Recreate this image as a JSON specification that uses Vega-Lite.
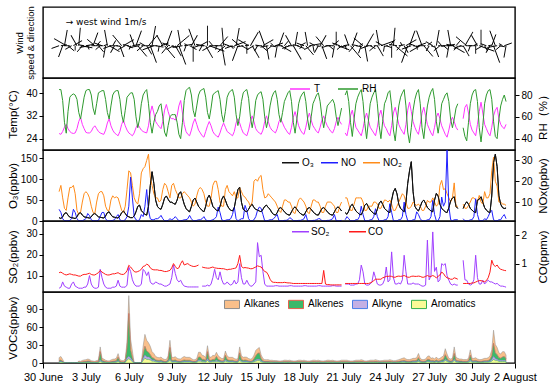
{
"$schema": "https://vega.github.io/schema/vega-lite/v6.json",
"padding": {"left": 6, "top": 5, "right": 2, "bottom": 2},
"bounds": "flush",
"config": {
  "font": "Liberation Sans",
  "view": {"stroke": "#000", "strokeWidth": 1.4},
  "axis": {"domain": false, "grid": false, "tickColor": "#000", "tickSize": 4, "labelColor": "#000", "labelFontSize": 10, "titleFontSize": 11.5, "titleFontWeight": "normal", "titleColor": "#000", "labelPadding": 2},
  "legend": {"labelFontSize": 10, "labelColor": "#000"}
},
"datasets": {"d": [
{"t":"2021-07-01T03:00","T":25.8,"RH":85,"O3":8,"NO":6.5,"NO2":15,"SO2":4,"CO":0.68,"v1":5,"v2":2,"v3":1,"v4":1,"s":2,"w":250},
{"t":"2021-07-01T06:00","T":25.5,"RH":85,"O3":6,"NO":5,"NO2":18,"SO2":4.5,"CO":0.7,"v1":6,"v2":2.5,"v3":1,"v4":1.5,"s":1.5,"w":80},
{"t":"2021-07-01T09:00","T":26.5,"RH":75,"O3":10,"NO":2,"NO2":12,"SO2":7,"CO":0.66,"v1":3.5,"v2":1,"v3":0.5,"v4":1,"s":3,"w":200},
{"t":"2021-07-01T12:00","T":28,"RH":55,"O3":18,"NO":1,"NO2":7,"SO2":5,"CO":0.62,"v1":0,"v2":0,"v3":0,"v4":0,"s":4,"w":10},
{"t":"2021-07-01T15:00","T":29,"RH":45,"O3":20,"NO":1,"NO2":6,"SO2":4.5,"CO":0.6,"v1":0,"v2":0,"v3":0,"v4":0,"s":3.5,"w":300},
{"t":"2021-07-01T18:00","T":27.5,"RH":65,"O3":14,"NO":1,"NO2":12,"SO2":4,"CO":0.62,"v1":0,"v2":0,"v3":0,"v4":0,"s":2,"w":130},
{"t":"2021-07-01T21:00","T":26.5,"RH":78,"O3":9,"NO":1.2,"NO2":17,"SO2":4,"CO":0.64,"v1":0,"v2":0,"v3":0,"v4":0,"s":1.5,"w":270},
{"t":"2021-07-02T00:00","T":26,"RH":80,"O3":8,"NO":2,"NO2":17,"SO2":6,"CO":0.62,"v1":0,"v2":0,"v3":0,"v4":0,"s":1.8,"w":240},
{"t":"2021-07-02T03:00","T":25.8,"RH":81,"O3":7,"NO":6.5,"NO2":18,"SO2":7,"CO":0.6,"v1":0,"v2":0,"v3":0,"v4":0,"s":2.5,"w":60},
{"t":"2021-07-02T06:00","T":26,"RH":80,"O3":6,"NO":5,"NO2":14,"SO2":5,"CO":0.6,"v1":0,"v2":0,"v3":0,"v4":0,"s":1.2,"w":180},
{"t":"2021-07-02T09:00","T":27.5,"RH":76,"O3":10,"NO":2,"NO2":6,"SO2":4.5,"CO":0.58,"v1":0,"v2":0,"v3":0,"v4":0,"s":3,"w":330},
{"t":"2021-07-02T12:00","T":30,"RH":64,"O3":18,"NO":1,"NO2":4,"SO2":4,"CO":0.56,"v1":2,"v2":0.6,"v3":0.3,"v4":0.5,"s":4.5,"w":5},
{"t":"2021-07-02T15:00","T":31.5,"RH":58,"O3":20,"NO":1,"NO2":5,"SO2":4,"CO":0.56,"v1":1.5,"v2":0.5,"v3":0.3,"v4":0.4,"s":3,"w":100},
{"t":"2021-07-02T18:00","T":29,"RH":68,"O3":14,"NO":1,"NO2":10,"SO2":4,"CO":0.6,"v1":2.5,"v2":0.8,"v3":0.4,"v4":0.6,"s":2,"w":220},
{"t":"2021-07-02T21:00","T":27.5,"RH":78,"O3":10,"NO":1.5,"NO2":14,"SO2":4.5,"CO":0.62,"v1":3,"v2":1,"v3":0.5,"v4":0.7,"s":1.5,"w":280},
{"t":"2021-07-03T00:00","T":26.2,"RH":84,"O3":9,"NO":2,"NO2":15,"SO2":4.5,"CO":0.62,"v1":3,"v2":1.2,"v3":0.6,"v4":0.8,"s":2,"w":80},
{"t":"2021-07-03T03:00","T":26,"RH":85,"O3":8,"NO":4.5,"NO2":14,"SO2":6,"CO":0.64,"v1":3.5,"v2":1.5,"v3":0.6,"v4":1,"s":1,"w":160},
{"t":"2021-07-03T06:00","T":26,"RH":85,"O3":7,"NO":3.5,"NO2":12,"SO2":10,"CO":0.66,"v1":3,"v2":1.5,"v3":0.5,"v4":1,"s":2.5,"w":260},
{"t":"2021-07-03T09:00","T":26.5,"RH":80,"O3":10,"NO":1.5,"NO2":8,"SO2":6,"CO":0.62,"v1":2,"v2":0.8,"v3":0.4,"v4":0.6,"s":3,"w":90},
{"t":"2021-07-03T12:00","T":27.8,"RH":68,"O3":16,"NO":1,"NO2":5,"SO2":4.5,"CO":0.6,"v1":1.8,"v2":0.6,"v3":0.3,"v4":0.5,"s":3.5,"w":20},
{"t":"2021-07-03T15:00","T":28.5,"RH":62,"O3":18,"NO":1,"NO2":4.5,"SO2":4,"CO":0.6,"v1":1.6,"v2":0.5,"v3":0.3,"v4":0.4,"s":2.5,"w":310},
{"t":"2021-07-03T18:00","T":27.5,"RH":72,"O3":14,"NO":1,"NO2":10,"SO2":4,"CO":0.64,"v1":2.2,"v2":0.8,"v3":0.4,"v4":0.6,"s":1.5,"w":40},
{"t":"2021-07-03T21:00","T":26.5,"RH":82,"O3":10,"NO":1.2,"NO2":14,"SO2":4.5,"CO":0.68,"v1":2.8,"v2":1,"v3":0.5,"v4":0.7,"s":2,"w":140},
{"t":"2021-07-04T00:00","T":26,"RH":83,"O3":9,"NO":3,"NO2":15,"SO2":13,"CO":0.76,"v1":8,"v2":14,"v3":2,"v4":3,"s":1.5,"w":230},
{"t":"2021-07-04T03:00","T":25.7,"RH":84,"O3":8,"NO":5,"NO2":15,"SO2":9,"CO":0.7,"v1":4,"v2":2,"v3":0.8,"v4":1.2,"s":2,"w":290},
{"t":"2021-07-04T06:00","T":25.5,"RH":84,"O3":7,"NO":5,"NO2":13,"SO2":6,"CO":0.66,"v1":3.5,"v2":1.5,"v3":0.6,"v4":1,"s":1,"w":70},
{"t":"2021-07-04T09:00","T":27,"RH":76,"O3":12,"NO":2,"NO2":8,"SO2":4.5,"CO":0.62,"v1":2.5,"v2":1,"v3":0.5,"v4":0.7,"s":3,"w":190},
{"t":"2021-07-04T12:00","T":29.5,"RH":64,"O3":20,"NO":1,"NO2":6,"SO2":4,"CO":0.6,"v1":2,"v2":0.7,"v3":0.4,"v4":0.5,"s":4,"w":350},
{"t":"2021-07-04T15:00","T":31,"RH":58,"O3":22,"NO":1,"NO2":6,"SO2":4,"CO":0.6,"v1":2,"v2":0.6,"v3":0.3,"v4":0.5,"s":3,"w":120},
{"t":"2021-07-04T18:00","T":28.5,"RH":70,"O3":15,"NO":1,"NO2":11,"SO2":4,"CO":0.62,"v1":2.8,"v2":1,"v3":0.5,"v4":0.7,"s":2,"w":250},
{"t":"2021-07-04T21:00","T":27,"RH":80,"O3":10,"NO":1.2,"NO2":13,"SO2":4.5,"CO":0.64,"v1":3.5,"v2":1.3,"v3":0.6,"v4":0.9,"s":1.5,"w":30},
{"t":"2021-07-05T00:00","T":26,"RH":83,"O3":9,"NO":1.5,"NO2":12,"SO2":4.5,"CO":0.64,"v1":3.5,"v2":1.5,"v3":0.6,"v4":1,"s":2,"w":210},
{"t":"2021-07-05T03:00","T":25.5,"RH":84,"O3":8,"NO":3,"NO2":12.5,"SO2":5,"CO":0.66,"v1":4,"v2":2,"v3":0.7,"v4":1.2,"s":1,"w":100},
{"t":"2021-07-05T06:00","T":25,"RH":84,"O3":7,"NO":4,"NO2":12,"SO2":7.8,"CO":0.68,"v1":6,"v2":6,"v3":1.2,"v4":2.5,"s":2,"w":270},
{"t":"2021-07-05T09:00","T":26.5,"RH":76,"O3":12,"NO":1.5,"NO2":9,"SO2":5,"CO":0.64,"v1":3,"v2":1.2,"v3":0.6,"v4":0.8,"s":3,"w":160},
{"t":"2021-07-05T12:00","T":29,"RH":62,"O3":20,"NO":1,"NO2":6,"SO2":4.5,"CO":0.62,"v1":2.5,"v2":0.8,"v3":0.4,"v4":0.6,"s":3.5,"w":320},
{"t":"2021-07-05T15:00","T":30.5,"RH":55,"O3":24,"NO":1,"NO2":5,"SO2":4.5,"CO":0.62,"v1":2.2,"v2":0.7,"v3":0.4,"v4":0.5,"s":3,"w":60},
{"t":"2021-07-05T18:00","T":28.5,"RH":66,"O3":18,"NO":1.5,"NO2":8,"SO2":4.5,"CO":0.66,"v1":4,"v2":1.5,"v3":0.6,"v4":1,"s":2,"w":240},
{"t":"2021-07-05T21:00","T":27,"RH":78,"O3":12,"NO":3,"NO2":16,"SO2":5.5,"CO":0.75,"v1":10,"v2":17,"v3":3,"v4":5,"s":1.5,"w":110},
{"t":"2021-07-06T00:00","T":26,"RH":80,"O3":10,"NO":8,"NO2":25,"SO2":14,"CO":0.94,"v1":30,"v2":72,"v3":4,"v4":7,"s":1.5,"w":280},
{"t":"2021-07-06T03:00","T":25.5,"RH":82,"O3":8,"NO":22,"NO2":24,"SO2":12,"CO":0.88,"v1":18,"v2":14,"v3":3,"v4":5,"s":1,"w":200},
{"t":"2021-07-06T06:00","T":25,"RH":82,"O3":8,"NO":12,"NO2":18,"SO2":8,"CO":0.8,"v1":11,"v2":5,"v3":2,"v4":2,"s":2,"w":80},
{"t":"2021-07-06T09:00","T":26,"RH":76,"O3":12,"NO":3,"NO2":12,"SO2":6,"CO":0.72,"v1":0,"v2":0,"v3":0,"v4":0,"s":3,"w":340},
{"t":"2021-07-06T12:00","T":27.8,"RH":60,"O3":22,"NO":1.5,"NO2":10,"SO2":5,"CO":0.7,"v1":0,"v2":0,"v3":0,"v4":0,"s":4,"w":20},
{"t":"2021-07-06T15:00","T":29,"RH":50,"O3":35,"NO":1,"NO2":9,"SO2":5,"CO":0.72,"v1":0,"v2":0,"v3":0,"v4":0,"s":3.5,"w":140},
{"t":"2021-07-06T18:00","T":28,"RH":58,"O3":38,"NO":1.5,"NO2":14,"SO2":5,"CO":0.75,"v1":0,"v2":0,"v3":0,"v4":0,"s":2.5,"w":260},
{"t":"2021-07-06T21:00","T":27,"RH":72,"O3":25,"NO":4,"NO2":24,"SO2":6,"CO":0.8,"v1":0,"v2":0,"v3":0,"v4":0,"s":2,"w":90},
{"t":"2021-07-07T00:00","T":26.5,"RH":80,"O3":20,"NO":3,"NO2":26,"SO2":13,"CO":0.9,"v1":14,"v2":7,"v3":3,"v4":4,"s":2,"w":230},
{"t":"2021-07-07T03:00","T":26.2,"RH":83,"O3":16,"NO":8,"NO2":27,"SO2":12,"CO":0.92,"v1":20,"v2":15,"v3":5,"v4":8,"s":1.5,"w":300},
{"t":"2021-07-07T06:00","T":26,"RH":85,"O3":14,"NO":16,"NO2":30,"SO2":10,"CO":0.98,"v1":18,"v2":10,"v3":4,"v4":6,"s":2.5,"w":150},
{"t":"2021-07-07T09:00","T":28.5,"RH":72,"O3":35,"NO":6,"NO2":33,"SO2":11.8,"CO":0.95,"v1":16,"v2":8,"v3":4,"v4":6,"s":3.5,"w":40},
{"t":"2021-07-07T12:00","T":33,"RH":55,"O3":85,"NO":2,"NO2":22,"SO2":7,"CO":0.85,"v1":14,"v2":6,"v3":3,"v4":5,"s":4.5,"w":160},
{"t":"2021-07-07T15:00","T":35.5,"RH":45,"O3":118,"NO":1.5,"NO2":18,"SO2":6,"CO":0.8,"v1":10,"v2":4,"v3":2,"v4":3,"s":5,"w":10},
{"t":"2021-07-07T18:00","T":33,"RH":55,"O3":90,"NO":1.5,"NO2":14,"SO2":6,"CO":0.78,"v1":8,"v2":3,"v3":2,"v4":3,"s":3,"w":250},
{"t":"2021-07-07T21:00","T":30,"RH":62,"O3":50,"NO":2,"NO2":12,"SO2":7,"CO":0.78,"v1":6,"v2":2,"v3":1,"v4":2,"s":2,"w":100},
{"t":"2021-07-08T00:00","T":29,"RH":65,"O3":35,"NO":2,"NO2":12,"SO2":6.5,"CO":0.78,"v1":5,"v2":2,"v3":1,"v4":1.5,"s":2,"w":270},
{"t":"2021-07-08T03:00","T":28.2,"RH":70,"O3":30,"NO":2.5,"NO2":10,"SO2":6,"CO":0.76,"v1":4.5,"v2":2,"v3":1,"v4":1.2,"s":1.5,"w":190},
{"t":"2021-07-08T06:00","T":27.5,"RH":72,"O3":28,"NO":3.6,"NO2":11,"SO2":6,"CO":0.76,"v1":5,"v2":2.5,"v3":1,"v4":1.5,"s":2,"w":70},
{"t":"2021-07-08T09:00","T":30,"RH":60,"O3":40,"NO":2,"NO2":16,"SO2":5.5,"CO":0.74,"v1":4,"v2":1.5,"v3":0.8,"v4":1,"s":3,"w":330},
{"t":"2021-07-08T12:00","T":34,"RH":46,"O3":55,"NO":1,"NO2":19,"SO2":5,"CO":0.72,"v1":3.5,"v2":1.2,"v3":0.6,"v4":0.8,"s":4,"w":140},
{"t":"2021-07-08T15:00","T":36,"RH":42,"O3":60,"NO":1,"NO2":18,"SO2":5,"CO":0.72,"v1":3.5,"v2":1,"v3":0.6,"v4":0.8,"s":4,"w":20},
{"t":"2021-07-08T18:00","T":33.5,"RH":52,"O3":52,"NO":1.2,"NO2":15,"SO2":5.5,"CO":0.74,"v1":6,"v2":3,"v3":1,"v4":2,"s":2.5,"w":220},
{"t":"2021-07-08T21:00","T":31.5,"RH":60,"O3":45,"NO":2,"NO2":12,"SO2":6,"CO":0.76,"v1":12,"v2":20,"v3":2,"v4":4,"s":2,"w":290},
{"t":"2021-07-09T00:00","T":31,"RH":62,"O3":45,"NO":1.5,"NO2":18,"SO2":9,"CO":0.85,"v1":5,"v2":2,"v3":1,"v4":1.5,"s":1.5,"w":110},
{"t":"2021-07-09T03:00","T":31,"RH":62,"O3":42,"NO":2,"NO2":19,"SO2":15,"CO":1,"v1":5,"v2":2,"v3":1,"v4":1.5,"s":2,"w":240},
{"t":"2021-07-09T06:00","T":30.5,"RH":62,"O3":40,"NO":3,"NO2":16,"SO2":11,"CO":0.9,"v1":5.5,"v2":2.5,"v3":1,"v4":1.5,"s":3,"w":150},
{"t":"2021-07-09T09:00","T":32,"RH":55,"O3":50,"NO":2,"NO2":14,"SO2":8,"CO":0.82,"v1":4.5,"v2":1.5,"v3":0.8,"v4":1.2,"s":4,"w":50},
{"t":"2021-07-09T12:00","T":35.5,"RH":44,"O3":65,"NO":1,"NO2":12,"SO2":7,"CO":0.85,"v1":4,"v2":1.2,"v3":0.7,"v4":1,"s":5,"w":160},
{"t":"2021-07-09T15:00","T":37.4,"RH":40,"O3":70,"NO":1,"NO2":12,"SO2":7.8,"CO":1,"v1":4,"v2":1.2,"v3":0.7,"v4":1,"s":4,"w":350},
{"t":"2021-07-09T18:00","T":33,"RH":55,"O3":55,"NO":1.2,"NO2":14,"SO2":6,"CO":1.1,"v1":5,"v2":2,"v3":1,"v4":1.3,"s":2.5,"w":260},
{"t":"2021-07-09T21:00","T":29,"RH":75,"O3":40,"NO":1.5,"NO2":15,"SO2":5,"CO":0.95,"v1":6,"v2":2.5,"v3":1,"v4":1.5,"s":2,"w":80},
{"t":"2021-07-10T00:00","T":26.5,"RH":84,"O3":30,"NO":1.5,"NO2":14,"SO2":4.8,"CO":0.98,"v1":5,"v2":2,"v3":1,"v4":1.5,"s":1.5,"w":200},
{"t":"2021-07-10T03:00","T":25.5,"RH":86,"O3":25,"NO":2,"NO2":13,"SO2":4.6,"CO":1,"v1":5,"v2":2,"v3":1,"v4":1.5,"s":1,"w":300},
{"t":"2021-07-10T06:00","T":25,"RH":87,"O3":22,"NO":3.6,"NO2":12,"SO2":4.6,"CO":0.95,"v1":5,"v2":2,"v3":1,"v4":1.5,"s":2,"w":120},
{"t":"2021-07-10T09:00","T":27,"RH":80,"O3":35,"NO":2,"NO2":10,"SO2":4.6,"CO":0.92,"v1":4,"v2":1.5,"v3":0.8,"v4":1.2,"s":3,"w":30},
{"t":"2021-07-10T12:00","T":29.5,"RH":66,"O3":50,"NO":1,"NO2":8,"SO2":4.6,"CO":0.9,"v1":3,"v2":1,"v3":0.6,"v4":0.9,"s":4,"w":180},
{"t":"2021-07-10T15:00","T":31,"RH":60,"O3":55,"NO":1,"NO2":9,"SO2":4.6,"CO":0.9,"v1":3,"v2":1,"v3":0.6,"v4":0.9,"s":4.5,"w":340},
{"t":"2021-07-10T18:00","T":29,"RH":70,"O3":45,"NO":1.2,"NO2":13,"SO2":4.6,"CO":0.92,"v1":4,"v2":1.5,"v3":0.8,"v4":1.2,"s":2,"w":90},
{"t":"2021-07-10T21:00","T":27,"RH":80,"O3":35,"NO":1.5,"NO2":16,"SO2":4.6,"CO":0.95,"v1":8,"v2":5,"v3":2,"v4":3,"s":1.5,"w":250},
{"t":"2021-07-11T00:00","T":26,"RH":84,"O3":30,"NO":1.5,"NO2":17,"SO2":null,"CO":null,"v1":8,"v2":5,"v3":2,"v4":3,"s":2,"w":60},
{"t":"2021-07-11T03:00","T":25,"RH":85,"O3":25,"NO":2,"NO2":16,"SO2":5,"CO":0.88,"v1":7,"v2":3,"v3":1,"v4":2,"s":1.5,"w":210},
{"t":"2021-07-11T06:00","T":24.5,"RH":86,"O3":22,"NO":3,"NO2":14,"SO2":5,"CO":0.86,"v1":6,"v2":3,"v3":1,"v4":2,"s":2,"w":280},
{"t":"2021-07-11T09:00","T":26.5,"RH":78,"O3":35,"NO":1.5,"NO2":10,"SO2":5,"CO":0.85,"v1":5,"v2":2,"v3":0.8,"v4":1.5,"s":3.5,"w":150},
{"t":"2021-07-11T12:00","T":28.5,"RH":64,"O3":55,"NO":1,"NO2":8,"SO2":5.5,"CO":0.84,"v1":10,"v2":12,"v3":3,"v4":4,"s":5,"w":0},
{"t":"2021-07-11T15:00","T":30,"RH":58,"O3":62,"NO":1,"NO2":8,"SO2":5,"CO":0.84,"v1":6,"v2":2,"v3":1,"v4":1.5,"s":4,"w":110},
{"t":"2021-07-11T18:00","T":28.5,"RH":68,"O3":50,"NO":1.2,"NO2":12,"SO2":6,"CO":0.86,"v1":5,"v2":2,"v3":1,"v4":1.5,"s":2.5,"w":240},
{"t":"2021-07-11T21:00","T":26.5,"RH":80,"O3":35,"NO":1.5,"NO2":18,"SO2":9,"CO":0.88,"v1":7,"v2":3,"v3":1,"v4":2,"s":1.5,"w":320},
{"t":"2021-07-12T00:00","T":25.5,"RH":82,"O3":30,"NO":2,"NO2":20,"SO2":13,"CO":0.85,"v1":6,"v2":3,"v3":1,"v4":2,"s":2,"w":90},
{"t":"2021-07-12T03:00","T":25,"RH":83,"O3":26,"NO":3,"NO2":20,"SO2":9,"CO":0.84,"v1":7,"v2":7,"v3":2,"v4":2,"s":1,"w":190},
{"t":"2021-07-12T06:00","T":24.5,"RH":84,"O3":24,"NO":7.6,"NO2":16,"SO2":8,"CO":0.83,"v1":6,"v2":3,"v3":1,"v4":2,"s":2,"w":270},
{"t":"2021-07-12T09:00","T":26,"RH":76,"O3":35,"NO":5,"NO2":10,"SO2":11.8,"CO":0.83,"v1":5,"v2":2,"v3":1,"v4":1.5,"s":3,"w":40},
{"t":"2021-07-12T12:00","T":28,"RH":62,"O3":52,"NO":1.5,"NO2":8,"SO2":8,"CO":0.82,"v1":4,"v2":1.5,"v3":0.8,"v4":1.2,"s":5,"w":170},
{"t":"2021-07-12T15:00","T":29.5,"RH":55,"O3":60,"NO":1,"NO2":8,"SO2":6,"CO":0.82,"v1":4,"v2":1.5,"v3":0.8,"v4":1.2,"s":4.5,"w":355},
{"t":"2021-07-12T18:00","T":28,"RH":65,"O3":50,"NO":1.2,"NO2":16,"SO2":6,"CO":0.8,"v1":7,"v2":8,"v3":2,"v4":3,"s":2.5,"w":230},
{"t":"2021-07-12T21:00","T":26.5,"RH":78,"O3":38,"NO":1.5,"NO2":18,"SO2":7,"CO":0.78,"v1":6,"v2":3,"v3":1,"v4":2,"s":2,"w":100},
{"t":"2021-07-13T00:00","T":26,"RH":82,"O3":30,"NO":1.5,"NO2":15,"SO2":6,"CO":0.8,"v1":5,"v2":2,"v3":1,"v4":1.5,"s":1.5,"w":290},
{"t":"2021-07-13T03:00","T":25.5,"RH":84,"O3":26,"NO":2,"NO2":14,"SO2":5.5,"CO":0.8,"v1":5,"v2":2,"v3":1,"v4":1.5,"s":1,"w":140},
{"t":"2021-07-13T06:00","T":25,"RH":85,"O3":24,"NO":4,"NO2":13,"SO2":6,"CO":0.82,"v1":5,"v2":2,"v3":1,"v4":1.5,"s":2,"w":250},
{"t":"2021-07-13T09:00","T":26.5,"RH":78,"O3":32,"NO":7.6,"NO2":15,"SO2":7.8,"CO":0.83,"v1":4,"v2":1.5,"v3":0.8,"v4":1.2,"s":3,"w":70},
{"t":"2021-07-13T12:00","T":29.5,"RH":62,"O3":55,"NO":2,"NO2":12,"SO2":6,"CO":0.85,"v1":3.5,"v2":1.2,"v3":0.7,"v4":1,"s":4.5,"w":10},
{"t":"2021-07-13T15:00","T":31,"RH":52,"O3":75,"NO":1,"NO2":12,"SO2":7,"CO":1,"v1":4,"v2":1.5,"v3":0.8,"v4":1.2,"s":4,"w":200},
{"t":"2021-07-13T18:00","T":29.5,"RH":60,"O3":81,"NO":1.5,"NO2":17,"SO2":15.7,"CO":1.29,"v1":10,"v2":11,"v3":2,"v4":4,"s":2.5,"w":310},
{"t":"2021-07-13T21:00","T":27.5,"RH":74,"O3":45,"NO":2,"NO2":15,"SO2":9,"CO":0.9,"v1":6,"v2":3,"v3":1,"v4":2,"s":2,"w":120},
{"t":"2021-07-14T00:00","T":26,"RH":82,"O3":28,"NO":2,"NO2":13,"SO2":6,"CO":0.85,"v1":5,"v2":2,"v3":1,"v4":1.5,"s":1.5,"w":260},
{"t":"2021-07-14T03:00","T":25.5,"RH":84,"O3":24,"NO":8.4,"NO2":12.4,"SO2":6,"CO":0.86,"v1":5,"v2":2.5,"v3":1,"v4":1.5,"s":1,"w":80},
{"t":"2021-07-14T06:00","T":25,"RH":85,"O3":22,"NO":6,"NO2":11,"SO2":7.8,"CO":0.85,"v1":5,"v2":2,"v3":1,"v4":1.5,"s":2,"w":180},
{"t":"2021-07-14T09:00","T":27,"RH":77,"O3":28,"NO":2,"NO2":10,"SO2":6,"CO":0.84,"v1":4,"v2":1.5,"v3":0.8,"v4":1.2,"s":3,"w":300},
{"t":"2021-07-14T12:00","T":30,"RH":60,"O3":36,"NO":1,"NO2":8,"SO2":5,"CO":0.82,"v1":3.5,"v2":1.2,"v3":0.7,"v4":1,"s":4,"w":30},
{"t":"2021-07-14T15:00","T":32,"RH":50,"O3":40,"NO":1,"NO2":10,"SO2":5,"CO":0.82,"v1":4,"v2":1.5,"v3":0.8,"v4":1.2,"s":3.5,"w":150},
{"t":"2021-07-14T18:00","T":30,"RH":60,"O3":32,"NO":1.5,"NO2":20,"SO2":6,"CO":0.85,"v1":6,"v2":4,"v3":1,"v4":2,"s":2,"w":240},
{"t":"2021-07-14T21:00","T":27.5,"RH":75,"O3":28,"NO":3,"NO2":21,"SO2":7,"CO":0.88,"v1":9,"v2":7,"v3":2,"v4":3,"s":1.5,"w":90},
{"t":"2021-07-15T00:00","T":26.5,"RH":80,"O3":26,"NO":6,"NO2":20,"SO2":25.7,"CO":0.92,"v1":8,"v2":10,"v3":2,"v4":4,"s":1.5,"w":210},
{"t":"2021-07-15T03:00","T":26,"RH":82,"O3":24,"NO":7.6,"NO2":22,"SO2":19,"CO":0.9,"v1":9,"v2":11,"v3":2,"v4":4,"s":1,"w":280},
{"t":"2021-07-15T06:00","T":25.5,"RH":83,"O3":22,"NO":7,"NO2":22.8,"SO2":19.7,"CO":0.88,"v1":6,"v2":4,"v3":1.5,"v4":2,"s":2,"w":130},
{"t":"2021-07-15T09:00","T":27,"RH":76,"O3":28,"NO":4,"NO2":16,"SO2":12,"CO":0.8,"v1":4,"v2":1.5,"v3":0.8,"v4":1.2,"s":3,"w":60},
{"t":"2021-07-15T12:00","T":30,"RH":60,"O3":35,"NO":1,"NO2":12,"SO2":6,"CO":0.72,"v1":3,"v2":1,"v3":0.6,"v4":0.9,"s":4,"w":340},
{"t":"2021-07-15T15:00","T":32,"RH":50,"O3":38,"NO":1,"NO2":12.4,"SO2":5,"CO":0.7,"v1":3,"v2":1,"v3":0.6,"v4":0.9,"s":3.5,"w":170},
{"t":"2021-07-15T18:00","T":30,"RH":58,"O3":32,"NO":1.2,"NO2":14,"SO2":5,"CO":0.6,"v1":3,"v2":1,"v3":0.6,"v4":0.9,"s":2,"w":260},
{"t":"2021-07-15T21:00","T":28,"RH":70,"O3":28,"NO":1.5,"NO2":13,"SO2":5,"CO":0.45,"v1":2.5,"v2":0.8,"v3":0.5,"v4":0.7,"s":1.5,"w":100},
{"t":"2021-07-16T00:00","T":27,"RH":78,"O3":20,"NO":1.5,"NO2":12,"SO2":5,"CO":0.36,"v1":2.5,"v2":1,"v3":0.5,"v4":0.7,"s":1.5,"w":230},
{"t":"2021-07-16T03:00","T":26.5,"RH":82,"O3":16,"NO":2,"NO2":11,"SO2":5,"CO":0.34,"v1":2.2,"v2":0.9,"v3":0.5,"v4":0.6,"s":1,"w":310},
{"t":"2021-07-16T06:00","T":26,"RH":84,"O3":14,"NO":3,"NO2":10,"SO2":5.2,"CO":0.34,"v1":2.2,"v2":0.9,"v3":0.5,"v4":0.6,"s":2,"w":70},
{"t":"2021-07-16T09:00","T":27.5,"RH":76,"O3":20,"NO":4,"NO2":8,"SO2":5.2,"CO":0.33,"v1":2,"v2":0.8,"v3":0.5,"v4":0.6,"s":3,"w":190},
{"t":"2021-07-16T12:00","T":30,"RH":62,"O3":30,"NO":1,"NO2":6,"SO2":5,"CO":0.33,"v1":1.8,"v2":0.7,"v3":0.4,"v4":0.5,"s":3.5,"w":20},
{"t":"2021-07-16T15:00","T":31,"RH":55,"O3":32,"NO":1,"NO2":5,"SO2":5,"CO":0.33,"v1":1.8,"v2":0.7,"v3":0.4,"v4":0.5,"s":3,"w":120},
{"t":"2021-07-16T18:00","T":29.5,"RH":64,"O3":28,"NO":1,"NO2":8,"SO2":5,"CO":0.33,"v1":2,"v2":0.8,"v3":0.5,"v4":0.6,"s":2,"w":270},
{"t":"2021-07-16T21:00","T":28,"RH":74,"O3":22,"NO":1.2,"NO2":11,"SO2":5,"CO":0.34,"v1":2.5,"v2":1,"v3":0.5,"v4":0.7,"s":1.5,"w":40},
{"t":"2021-07-17T00:00","T":27,"RH":78,"O3":18,"NO":1.2,"NO2":11,"SO2":5,"CO":0.33,"v1":2.5,"v2":1,"v3":0.5,"v4":0.7,"s":1,"w":200},
{"t":"2021-07-17T03:00","T":26,"RH":82,"O3":15,"NO":1.5,"NO2":10,"SO2":5,"CO":0.32,"v1":2.2,"v2":0.9,"v3":0.5,"v4":0.6,"s":1.5,"w":90},
{"t":"2021-07-17T06:00","T":25.5,"RH":84,"O3":14,"NO":2.5,"NO2":10,"SO2":5.2,"CO":0.32,"v1":2.5,"v2":1,"v3":0.5,"v4":0.7,"s":2,"w":250},
{"t":"2021-07-17T09:00","T":28,"RH":74,"O3":22,"NO":2,"NO2":8,"SO2":5.2,"CO":0.31,"v1":2,"v2":0.8,"v3":0.5,"v4":0.6,"s":3,"w":330},
{"t":"2021-07-17T12:00","T":31.5,"RH":55,"O3":30,"NO":1,"NO2":5,"SO2":5,"CO":0.3,"v1":1.8,"v2":0.7,"v3":0.4,"v4":0.5,"s":4,"w":150},
{"t":"2021-07-17T15:00","T":33.5,"RH":45,"O3":34,"NO":1,"NO2":4.5,"SO2":5,"CO":0.3,"v1":1.8,"v2":0.7,"v3":0.4,"v4":0.5,"s":3.5,"w":10},
{"t":"2021-07-17T18:00","T":31,"RH":58,"O3":28,"NO":1,"NO2":8,"SO2":5,"CO":0.3,"v1":2,"v2":0.8,"v3":0.5,"v4":0.6,"s":2,"w":110},
{"t":"2021-07-17T21:00","T":28.5,"RH":72,"O3":22,"NO":1.2,"NO2":11,"SO2":5,"CO":0.3,"v1":2.5,"v2":1,"v3":0.5,"v4":0.7,"s":1.5,"w":280},
{"t":"2021-07-18T00:00","T":27,"RH":78,"O3":18,"NO":1.2,"NO2":12,"SO2":5,"CO":0.3,"v1":2.5,"v2":1,"v3":0.5,"v4":0.7,"s":1.5,"w":60},
{"t":"2021-07-18T03:00","T":26,"RH":81,"O3":15,"NO":1.5,"NO2":11,"SO2":5,"CO":0.3,"v1":2.2,"v2":0.9,"v3":0.5,"v4":0.6,"s":1,"w":220},
{"t":"2021-07-18T06:00","T":25.5,"RH":83,"O3":14,"NO":2,"NO2":10,"SO2":5.2,"CO":0.3,"v1":2.5,"v2":1,"v3":0.5,"v4":0.7,"s":2,"w":290},
{"t":"2021-07-18T09:00","T":28,"RH":74,"O3":22,"NO":4,"NO2":8,"SO2":5.2,"CO":0.3,"v1":2,"v2":0.8,"v3":0.5,"v4":0.6,"s":3,"w":140},
{"t":"2021-07-18T12:00","T":31,"RH":58,"O3":30,"NO":1,"NO2":5,"SO2":5,"CO":0.3,"v1":1.8,"v2":0.7,"v3":0.4,"v4":0.5,"s":3.5,"w":350},
{"t":"2021-07-18T15:00","T":33,"RH":48,"O3":32,"NO":1,"NO2":4.5,"SO2":5,"CO":0.3,"v1":1.8,"v2":0.7,"v3":0.4,"v4":0.5,"s":3,"w":80},
{"t":"2021-07-18T18:00","T":30.5,"RH":60,"O3":28,"NO":1,"NO2":8,"SO2":5,"CO":0.3,"v1":2,"v2":0.8,"v3":0.5,"v4":0.6,"s":2,"w":240},
{"t":"2021-07-18T21:00","T":28.5,"RH":72,"O3":22,"NO":1.2,"NO2":11,"SO2":5,"CO":0.3,"v1":2.5,"v2":1,"v3":0.5,"v4":0.7,"s":1.5,"w":170},
{"t":"2021-07-19T00:00","T":27.5,"RH":76,"O3":18,"NO":1.2,"NO2":11,"SO2":5,"CO":0.3,"v1":2.5,"v2":1,"v3":0.5,"v4":0.7,"s":1.5,"w":300},
{"t":"2021-07-19T03:00","T":26.5,"RH":80,"O3":15,"NO":1.5,"NO2":10,"SO2":5,"CO":0.3,"v1":2.2,"v2":0.9,"v3":0.5,"v4":0.6,"s":1,"w":100},
{"t":"2021-07-19T06:00","T":26,"RH":82,"O3":14,"NO":2,"NO2":10,"SO2":5.2,"CO":0.3,"v1":2.5,"v2":1,"v3":0.5,"v4":0.7,"s":2,"w":210},
{"t":"2021-07-19T09:00","T":28,"RH":74,"O3":22,"NO":2,"NO2":8,"SO2":5.2,"CO":0.3,"v1":2,"v2":0.8,"v3":0.5,"v4":0.6,"s":3,"w":30},
{"t":"2021-07-19T12:00","T":30.5,"RH":60,"O3":30,"NO":1,"NO2":5,"SO2":5,"CO":0.3,"v1":1.8,"v2":0.7,"v3":0.4,"v4":0.5,"s":3.5,"w":160},
{"t":"2021-07-19T15:00","T":32,"RH":50,"O3":32,"NO":1,"NO2":5,"SO2":5,"CO":0.76,"v1":1.8,"v2":0.7,"v3":0.4,"v4":0.5,"s":3,"w":320},
{"t":"2021-07-19T18:00","T":30,"RH":60,"O3":28,"NO":1,"NO2":8,"SO2":5,"CO":0.28,"v1":2,"v2":0.8,"v3":0.5,"v4":0.6,"s":2,"w":90},
{"t":"2021-07-19T21:00","T":28.5,"RH":70,"O3":22,"NO":1.2,"NO2":10,"SO2":5,"CO":0.26,"v1":2.5,"v2":1,"v3":0.5,"v4":0.7,"s":1.5,"w":250},
{"t":"2021-07-20T00:00","T":27.5,"RH":72,"O3":18,"NO":1.2,"NO2":10,"SO2":5,"CO":0.26,"v1":2.5,"v2":1,"v3":0.5,"v4":0.7,"s":1.5,"w":130},
{"t":"2021-07-20T03:00","T":26.5,"RH":74,"O3":15,"NO":1.5,"NO2":10,"SO2":5,"CO":0.25,"v1":2.2,"v2":0.9,"v3":0.5,"v4":0.6,"s":1,"w":270},
{"t":"2021-07-20T06:00","T":26,"RH":76,"O3":14,"NO":2,"NO2":9,"SO2":5.2,"CO":0.25,"v1":2.5,"v2":1,"v3":0.5,"v4":0.7,"s":2,"w":50},
{"t":"2021-07-20T09:00","T":27.5,"RH":72,"O3":22,"NO":4,"NO2":8,"SO2":5.2,"CO":0.25,"v1":2,"v2":0.8,"v3":0.5,"v4":0.6,"s":3,"w":190},
{"t":"2021-07-20T12:00","T":30,"RH":60,"O3":30,"NO":1,"NO2":5,"SO2":5,"CO":0.25,"v1":1.8,"v2":0.7,"v3":0.4,"v4":0.5,"s":3.5,"w":0},
{"t":"2021-07-20T15:00","T":31.5,"RH":52,"O3":34,"NO":1,"NO2":5,"SO2":5,"CO":0.25,"v1":1.8,"v2":0.7,"v3":0.4,"v4":0.5,"s":3,"w":110},
{"t":"2021-07-20T18:00","T":30,"RH":60,"O3":30,"NO":1,"NO2":8,"SO2":5,"CO":0.25,"v1":2,"v2":0.8,"v3":0.5,"v4":0.6,"s":2,"w":290},
{"t":"2021-07-20T21:00","T":29,"RH":68,"O3":24,"NO":1.2,"NO2":10,"SO2":5,"CO":0.25,"v1":2.5,"v2":1,"v3":0.5,"v4":0.7,"s":1.5,"w":230},
{"t":"2021-07-21T00:00","T":null,"RH":null,"O3":null,"NO":null,"NO2":null,"SO2":null,"CO":null,"v1":2.5,"v2":1,"v3":0.5,"v4":0.7,"s":1.5,"w":80},
{"t":"2021-07-21T03:00","T":26,"RH":80,"O3":20,"NO":1.5,"NO2":12,"SO2":6,"CO":0.3,"v1":2.5,"v2":1,"v3":0.5,"v4":0.7,"s":1,"w":160},
{"t":"2021-07-21T06:00","T":25,"RH":84,"O3":16,"NO":3,"NO2":12,"SO2":6,"CO":0.3,"v1":2.5,"v2":1,"v3":0.5,"v4":0.7,"s":2,"w":260},
{"t":"2021-07-21T09:00","T":28,"RH":74,"O3":24,"NO":2,"NO2":9,"SO2":6,"CO":0.3,"v1":2,"v2":0.8,"v3":0.5,"v4":0.6,"s":3,"w":340},
{"t":"2021-07-21T12:00","T":32,"RH":55,"O3":36,"NO":1,"NO2":6,"SO2":5.5,"CO":0.3,"v1":1.8,"v2":0.7,"v3":0.4,"v4":0.5,"s":4,"w":140},
{"t":"2021-07-21T15:00","T":34,"RH":42,"O3":40,"NO":1,"NO2":6,"SO2":5.5,"CO":0.3,"v1":1.8,"v2":0.7,"v3":0.4,"v4":0.5,"s":3.5,"w":20},
{"t":"2021-07-21T18:00","T":31,"RH":58,"O3":32,"NO":1,"NO2":9,"SO2":5.5,"CO":0.3,"v1":2,"v2":0.8,"v3":0.5,"v4":0.6,"s":2,"w":220},
{"t":"2021-07-21T21:00","T":28,"RH":72,"O3":24,"NO":1.5,"NO2":12,"SO2":6,"CO":0.3,"v1":2.5,"v2":1,"v3":0.5,"v4":0.7,"s":1.5,"w":100},
{"t":"2021-07-22T00:00","T":27,"RH":78,"O3":20,"NO":1.5,"NO2":12,"SO2":6,"CO":0.3,"v1":2.5,"v2":1,"v3":0.5,"v4":0.7,"s":1.5,"w":280},
{"t":"2021-07-22T03:00","T":26,"RH":82,"O3":16,"NO":3,"NO2":12,"SO2":8,"CO":0.3,"v1":2.5,"v2":1,"v3":0.5,"v4":0.7,"s":1,"w":60},
{"t":"2021-07-22T06:00","T":25,"RH":85,"O3":15,"NO":8,"NO2":12,"SO2":15,"CO":0.3,"v1":3,"v2":1.2,"v3":0.6,"v4":0.8,"s":2,"w":200},
{"t":"2021-07-22T09:00","T":27.5,"RH":74,"O3":24,"NO":4,"NO2":10,"SO2":11.8,"CO":0.3,"v1":2.5,"v2":1,"v3":0.5,"v4":0.7,"s":3,"w":310},
{"t":"2021-07-22T12:00","T":31,"RH":54,"O3":38,"NO":1,"NO2":6,"SO2":6,"CO":0.3,"v1":1.8,"v2":0.7,"v3":0.4,"v4":0.5,"s":4,"w":170},
{"t":"2021-07-22T15:00","T":33,"RH":40,"O3":42,"NO":1,"NO2":6,"SO2":5.5,"CO":0.3,"v1":1.8,"v2":0.7,"v3":0.4,"v4":0.5,"s":3.5,"w":30},
{"t":"2021-07-22T18:00","T":30.5,"RH":56,"O3":34,"NO":1,"NO2":8,"SO2":5.5,"CO":0.3,"v1":2,"v2":0.8,"v3":0.5,"v4":0.6,"s":2,"w":250},
{"t":"2021-07-22T21:00","T":28,"RH":72,"O3":26,"NO":1.5,"NO2":8,"SO2":6,"CO":0.32,"v1":2.5,"v2":1,"v3":0.5,"v4":0.7,"s":1.5,"w":120},
{"t":"2021-07-23T00:00","T":27,"RH":78,"O3":22,"NO":1.5,"NO2":8,"SO2":7,"CO":0.35,"v1":2.5,"v2":1,"v3":0.5,"v4":0.7,"s":1.5,"w":270},
{"t":"2021-07-23T03:00","T":26,"RH":82,"O3":18,"NO":3,"NO2":10,"SO2":11.8,"CO":0.4,"v1":2.5,"v2":1,"v3":0.5,"v4":0.7,"s":1,"w":90},
{"t":"2021-07-23T06:00","T":25,"RH":85,"O3":16,"NO":6.8,"NO2":10,"SO2":9,"CO":0.45,"v1":3,"v2":1.2,"v3":0.6,"v4":0.8,"s":2,"w":230},
{"t":"2021-07-23T09:00","T":28,"RH":72,"O3":28,"NO":3,"NO2":9,"SO2":6,"CO":0.45,"v1":2.5,"v2":1,"v3":0.5,"v4":0.7,"s":3,"w":150},
{"t":"2021-07-23T12:00","T":32,"RH":52,"O3":42,"NO":1,"NO2":7,"SO2":5.5,"CO":0.45,"v1":2,"v2":0.8,"v3":0.5,"v4":0.6,"s":4,"w":350},
{"t":"2021-07-23T15:00","T":34,"RH":40,"O3":48,"NO":1,"NO2":7,"SO2":5.5,"CO":0.45,"v1":2,"v2":0.8,"v3":0.5,"v4":0.6,"s":3.5,"w":70},
{"t":"2021-07-23T18:00","T":31,"RH":56,"O3":40,"NO":1,"NO2":9,"SO2":6,"CO":0.5,"v1":2.2,"v2":0.9,"v3":0.5,"v4":0.6,"s":2,"w":300},
{"t":"2021-07-23T21:00","T":28.5,"RH":72,"O3":30,"NO":1.5,"NO2":11,"SO2":8,"CO":0.52,"v1":2.5,"v2":1,"v3":0.5,"v4":0.7,"s":1.5,"w":190},
{"t":"2021-07-24T00:00","T":27.5,"RH":76,"O3":26,"NO":1.5,"NO2":10.8,"SO2":14.1,"CO":0.55,"v1":2.5,"v2":1,"v3":0.5,"v4":0.7,"s":1.5,"w":110},
{"t":"2021-07-24T03:00","T":26,"RH":82,"O3":22,"NO":3,"NO2":10,"SO2":7,"CO":0.55,"v1":2.5,"v2":1,"v3":0.5,"v4":0.7,"s":1,"w":260},
{"t":"2021-07-24T06:00","T":25,"RH":84,"O3":20,"NO":9.2,"NO2":11,"SO2":8,"CO":0.56,"v1":3,"v2":1.2,"v3":0.6,"v4":0.8,"s":2,"w":40},
{"t":"2021-07-24T09:00","T":28.5,"RH":70,"O3":50,"NO":5,"NO2":9,"SO2":21.3,"CO":0.55,"v1":2.5,"v2":1,"v3":0.5,"v4":0.7,"s":3,"w":180},
{"t":"2021-07-24T12:00","T":33,"RH":48,"O3":70,"NO":1,"NO2":6,"SO2":9,"CO":0.52,"v1":2,"v2":0.8,"v3":0.5,"v4":0.6,"s":4.5,"w":5},
{"t":"2021-07-24T15:00","T":35,"RH":38,"O3":78,"NO":1,"NO2":6,"SO2":6,"CO":0.52,"v1":2,"v2":0.8,"v3":0.5,"v4":0.6,"s":4,"w":130},
{"t":"2021-07-24T18:00","T":32,"RH":54,"O3":65,"NO":1,"NO2":8,"SO2":6,"CO":0.55,"v1":2.5,"v2":1,"v3":0.5,"v4":0.7,"s":2,"w":280},
{"t":"2021-07-24T21:00","T":29,"RH":70,"O3":40,"NO":1.5,"NO2":10,"SO2":6.5,"CO":0.56,"v1":3,"v2":1.2,"v3":0.6,"v4":0.8,"s":1.5,"w":80},
{"t":"2021-07-25T00:00","T":27.5,"RH":78,"O3":30,"NO":1.5,"NO2":12,"SO2":6,"CO":0.55,"v1":3.5,"v2":1.5,"v3":0.7,"v4":1,"s":1.5,"w":220},
{"t":"2021-07-25T03:00","T":26.5,"RH":82,"O3":26,"NO":3,"NO2":14,"SO2":8,"CO":0.56,"v1":4,"v2":1.8,"v3":0.8,"v4":1.2,"s":1,"w":330},
{"t":"2021-07-25T06:00","T":25.5,"RH":85,"O3":22,"NO":10,"NO2":13,"SO2":19.7,"CO":0.58,"v1":4.5,"v2":2,"v3":0.9,"v4":1.4,"s":2,"w":150},
{"t":"2021-07-25T09:00","T":29,"RH":70,"O3":45,"NO":4,"NO2":10,"SO2":11.8,"CO":0.55,"v1":3.5,"v2":1.5,"v3":0.7,"v4":1,"s":3,"w":60},
{"t":"2021-07-25T12:00","T":34,"RH":46,"O3":90,"NO":1,"NO2":7,"SO2":6,"CO":0.52,"v1":3,"v2":1.2,"v3":0.6,"v4":0.9,"s":4.5,"w":200},
{"t":"2021-07-25T15:00","T":36.8,"RH":36,"O3":120,"NO":1,"NO2":7,"SO2":6,"CO":0.52,"v1":3,"v2":1.2,"v3":0.6,"v4":0.9,"s":4,"w":20},
{"t":"2021-07-25T18:00","T":33.5,"RH":50,"O3":142,"NO":1,"NO2":8,"SO2":6,"CO":0.55,"v1":3.5,"v2":1.5,"v3":0.7,"v4":1,"s":2.5,"w":250},
{"t":"2021-07-25T21:00","T":30,"RH":66,"O3":70,"NO":1.5,"NO2":10,"SO2":6.5,"CO":0.56,"v1":4,"v2":1.8,"v3":0.8,"v4":1.2,"s":1.5,"w":100},
{"t":"2021-07-26T00:00","T":28,"RH":76,"O3":35,"NO":1.5,"NO2":9,"SO2":6,"CO":0.55,"v1":4,"v2":1.8,"v3":0.8,"v4":1.2,"s":1.5,"w":290},
{"t":"2021-07-26T03:00","T":26.5,"RH":82,"O3":28,"NO":5.3,"NO2":8.4,"SO2":6,"CO":0.55,"v1":4.5,"v2":2,"v3":0.9,"v4":1.4,"s":1,"w":170},
{"t":"2021-07-26T06:00","T":25.5,"RH":85,"O3":24,"NO":4,"NO2":9,"SO2":6,"CO":0.56,"v1":7,"v2":5,"v3":1.5,"v4":2.5,"s":2,"w":70},
{"t":"2021-07-26T09:00","T":29,"RH":72,"O3":34,"NO":2,"NO2":8,"SO2":5.5,"CO":0.55,"v1":4,"v2":1.8,"v3":0.8,"v4":1.2,"s":3,"w":240},
{"t":"2021-07-26T12:00","T":33,"RH":50,"O3":46,"NO":1,"NO2":6,"SO2":5,"CO":0.52,"v1":3,"v2":1.2,"v3":0.6,"v4":0.9,"s":4,"w":340},
{"t":"2021-07-26T15:00","T":35,"RH":40,"O3":50,"NO":1,"NO2":6,"SO2":5,"CO":0.52,"v1":3,"v2":1.2,"v3":0.6,"v4":0.9,"s":3.5,"w":140},
{"t":"2021-07-26T18:00","T":32,"RH":56,"O3":42,"NO":1,"NO2":8,"SO2":5.5,"CO":0.55,"v1":3.5,"v2":1.5,"v3":0.7,"v4":1,"s":2,"w":270},
{"t":"2021-07-26T21:00","T":29,"RH":70,"O3":32,"NO":1.5,"NO2":10.8,"SO2":26.9,"CO":0.58,"v1":5,"v2":3,"v3":1,"v4":2,"s":1.5,"w":50},
{"t":"2021-07-27T00:00","T":27.5,"RH":78,"O3":28,"NO":1.5,"NO2":10,"SO2":8,"CO":0.55,"v1":6,"v2":3,"v3":1.2,"v4":1.8,"s":1.5,"w":210},
{"t":"2021-07-27T03:00","T":26,"RH":83,"O3":24,"NO":3,"NO2":10,"SO2":10,"CO":0.55,"v1":4,"v2":1.8,"v3":0.8,"v4":1.2,"s":1,"w":110},
{"t":"2021-07-27T06:00","T":25,"RH":86,"O3":22,"NO":10.8,"NO2":12,"SO2":30.8,"CO":0.58,"v1":4.5,"v2":2,"v3":0.9,"v4":1.4,"s":2,"w":300},
{"t":"2021-07-27T09:00","T":28,"RH":76,"O3":50,"NO":4,"NO2":10,"SO2":12,"CO":0.55,"v1":3.5,"v2":1.5,"v3":0.7,"v4":1,"s":3,"w":160},
{"t":"2021-07-27T12:00","T":31.5,"RH":56,"O3":66,"NO":1,"NO2":8,"SO2":14,"CO":0.5,"v1":5,"v2":2.5,"v3":1,"v4":1.5,"s":4,"w":10},
{"t":"2021-07-27T15:00","T":33,"RH":45,"O3":60,"NO":1,"NO2":9,"SO2":7,"CO":0.55,"v1":3.5,"v2":1.5,"v3":0.7,"v4":1,"s":3.5,"w":90},
{"t":"2021-07-27T18:00","T":31,"RH":56,"O3":40,"NO":3,"NO2":18,"SO2":8,"CO":0.6,"v1":4,"v2":1.8,"v3":0.8,"v4":1.2,"s":2,"w":230},
{"t":"2021-07-27T21:00","T":28.5,"RH":72,"O3":30,"NO":12.4,"NO2":20.4,"SO2":15.7,"CO":0.7,"v1":5,"v2":2.5,"v3":1,"v4":1.5,"s":1.5,"w":320},
{"t":"2021-07-28T00:00","T":27,"RH":76,"O3":26,"NO":8,"NO2":16,"SO2":15,"CO":0.65,"v1":6,"v2":3,"v3":1.2,"v4":1.8,"s":1.5,"w":130},
{"t":"2021-07-28T03:00","T":25.5,"RH":80,"O3":22,"NO":10,"NO2":16.4,"SO2":15.7,"CO":0.55,"v1":10,"v2":8,"v3":2,"v4":4,"s":1,"w":260},
{"t":"2021-07-28T06:00","T":24.5,"RH":82,"O3":20,"NO":34.9,"NO2":14,"SO2":10,"CO":0.5,"v1":7,"v2":4,"v3":1.5,"v4":2.5,"s":2,"w":80},
{"t":"2021-07-28T09:00","T":27,"RH":74,"O3":32,"NO":8,"NO2":12,"SO2":7.8,"CO":0.48,"v1":4,"v2":1.8,"v3":0.8,"v4":1.2,"s":3,"w":190},
{"t":"2021-07-28T12:00","T":30,"RH":58,"O3":48,"NO":1.5,"NO2":10,"SO2":6,"CO":0.45,"v1":3.5,"v2":1.5,"v3":0.7,"v4":1,"s":4,"w":350},
{"t":"2021-07-28T15:00","T":31.5,"RH":50,"O3":55,"NO":1,"NO2":12,"SO2":5.5,"CO":0.45,"v1":4,"v2":1.8,"v3":0.8,"v4":1.2,"s":3.5,"w":120},
{"t":"2021-07-28T18:00","T":30,"RH":58,"O3":58,"NO":1.5,"NO2":19.2,"SO2":6,"CO":0.5,"v1":11,"v2":10,"v3":2,"v4":4,"s":2,"w":280},
{"t":"2021-07-28T21:00","T":28,"RH":68,"O3":35,"NO":1.5,"NO2":7.6,"SO2":5.5,"CO":0.48,"v1":5,"v2":2,"v3":1,"v4":1.5,"s":1.5,"w":40},
{"t":"2021-07-29T00:00","T":27,"RH":72,"O3":30,"NO":1.5,"NO2":8,"SO2":5.5,"CO":0.45,"v1":4,"v2":1.8,"v3":0.8,"v4":1.2,"s":1.5,"w":220},
{"t":"2021-07-29T03:00","T":null,"RH":null,"O3":null,"NO":null,"NO2":null,"SO2":null,"CO":null,"v1":3.5,"v2":1.5,"v3":0.7,"v4":1,"s":1,"w":100},
{"t":"2021-07-29T06:00","T":null,"RH":null,"O3":null,"NO":null,"NO2":null,"SO2":null,"CO":null,"v1":3.5,"v2":1.5,"v3":0.7,"v4":1,"s":2,"w":250},
{"t":"2021-07-29T09:00","T":31,"RH":50,"O3":30,"NO":2,"NO2":9,"SO2":17.3,"CO":0.3,"v1":3,"v2":1.2,"v3":0.6,"v4":0.9,"s":3,"w":150},
{"t":"2021-07-29T12:00","T":35,"RH":42,"O3":40,"NO":1,"NO2":7,"SO2":8,"CO":0.3,"v1":3,"v2":1.2,"v3":0.6,"v4":0.9,"s":4,"w":30},
{"t":"2021-07-29T15:00","T":36,"RH":38,"O3":46,"NO":1,"NO2":7,"SO2":7.8,"CO":0.3,"v1":3,"v2":1.2,"v3":0.6,"v4":0.9,"s":3.5,"w":310},
{"t":"2021-07-29T18:00","T":33,"RH":55,"O3":40,"NO":1,"NO2":8.4,"SO2":6,"CO":0.3,"v1":4,"v2":1.8,"v3":0.8,"v4":1.2,"s":2,"w":90},
{"t":"2021-07-29T21:00","T":29,"RH":72,"O3":30,"NO":1.5,"NO2":10,"SO2":5.5,"CO":0.3,"v1":9,"v2":8,"v3":2,"v4":3,"s":1.5,"w":200},
{"t":"2021-07-30T00:00","T":27,"RH":80,"O3":26,"NO":1.5,"NO2":12,"SO2":6,"CO":0.32,"v1":4,"v2":1.8,"v3":0.8,"v4":1.2,"s":1.5,"w":270},
{"t":"2021-07-30T03:00","T":26,"RH":84,"O3":22,"NO":3,"NO2":12,"SO2":8,"CO":0.32,"v1":4,"v2":1.8,"v3":0.8,"v4":1.2,"s":1,"w":60},
{"t":"2021-07-30T06:00","T":25,"RH":85,"O3":20,"NO":11.6,"NO2":11,"SO2":19.7,"CO":0.35,"v1":4.5,"v2":2,"v3":0.9,"v4":1.4,"s":2,"w":180},
{"t":"2021-07-30T09:00","T":29,"RH":74,"O3":50,"NO":4,"NO2":10,"SO2":9,"CO":0.38,"v1":3.5,"v2":1.5,"v3":0.7,"v4":1,"s":3,"w":330},
{"t":"2021-07-30T12:00","T":33.5,"RH":50,"O3":52,"NO":1,"NO2":13.2,"SO2":6,"CO":0.4,"v1":3,"v2":1.2,"v3":0.6,"v4":0.9,"s":4,"w":110},
{"t":"2021-07-30T15:00","T":36.8,"RH":37,"O3":58,"NO":1,"NO2":10,"SO2":6,"CO":0.4,"v1":3,"v2":1.2,"v3":0.6,"v4":0.9,"s":4,"w":0},
{"t":"2021-07-30T18:00","T":33,"RH":52,"O3":45,"NO":1,"NO2":9,"SO2":7.8,"CO":0.38,"v1":3.5,"v2":1.5,"v3":0.7,"v4":1,"s":2,"w":240},
{"t":"2021-07-30T21:00","T":29,"RH":72,"O3":32,"NO":2,"NO2":15,"SO2":6,"CO":0.36,"v1":4,"v2":1.8,"v3":0.8,"v4":1.2,"s":1.5,"w":150},
{"t":"2021-07-31T00:00","T":27.5,"RH":80,"O3":26,"NO":1.5,"NO2":12,"SO2":7,"CO":0.4,"v1":4,"v2":1.8,"v3":0.8,"v4":1.2,"s":1.5,"w":290},
{"t":"2021-07-31T03:00","T":26,"RH":84,"O3":22,"NO":3,"NO2":12,"SO2":7.8,"CO":0.5,"v1":4.5,"v2":2,"v3":0.9,"v4":1.4,"s":1,"w":80},
{"t":"2021-07-31T06:00","T":25,"RH":85,"O3":20,"NO":5,"NO2":14,"SO2":7,"CO":0.7,"v1":6,"v2":3,"v3":1.2,"v4":1.8,"s":2,"w":210},
{"t":"2021-07-31T09:00","T":28,"RH":76,"O3":60,"NO":6,"NO2":25,"SO2":7,"CO":1.12,"v1":10,"v2":7,"v3":2,"v4":3,"s":3,"w":20},
{"t":"2021-07-31T12:00","T":32,"RH":56,"O3":140,"NO":1.5,"NO2":31.6,"SO2":6.5,"CO":0.95,"v1":22,"v2":22,"v3":5,"v4":6,"s":4.5,"w":160},
{"t":"2021-07-31T15:00","T":34,"RH":42,"O3":160,"NO":1,"NO2":20,"SO2":6,"CO":0.9,"v1":14,"v2":10,"v3":3,"v4":4,"s":4,"w":340},
{"t":"2021-07-31T18:00","T":35,"RH":40,"O3":130,"NO":1,"NO2":17.6,"SO2":6.3,"CO":0.95,"v1":12,"v2":8,"v3":2,"v4":4,"s":2.5,"w":260},
{"t":"2021-07-31T21:00","T":31,"RH":58,"O3":60,"NO":1.5,"NO2":10,"SO2":5.5,"CO":0.85,"v1":8,"v2":5,"v3":1.5,"v4":2.5,"s":1.5,"w":100},
{"t":"2021-08-01T00:00","T":29,"RH":70,"O3":40,"NO":1.5,"NO2":10,"SO2":5,"CO":0.8,"v1":7,"v2":4,"v3":1.5,"v4":2.5,"s":1.5,"w":230},
{"t":"2021-08-01T03:00","T":28,"RH":76,"O3":32,"NO":3,"NO2":9,"SO2":5,"CO":0.78,"v1":9,"v2":6,"v3":1.5,"v4":2.5,"s":1,"w":300},
{"t":"2021-08-01T06:00","T":27.5,"RH":80,"O3":30,"NO":4,"NO2":9,"SO2":4.8,"CO":0.76,"v1":8,"v2":7,"v3":1.5,"v4":2.5,"s":2,"w":70},
{"t":"2021-08-01T09:00","T":29,"RH":74,"O3":31,"NO":2,"NO2":8.4,"SO2":4.5,"CO":0.75,"v1":6,"v2":4,"v3":1.2,"v4":2,"s":3,"w":190}
]},
"spacing": 0,
"resolve": {"scale": {"color": "independent", "fill": "independent", "stroke": "independent", "y": "independent"}, "legend": {"color": "independent", "fill": "independent", "stroke": "independent"}},
"vconcat": [
{
  "width": 472, "height": 71,
  "layer": [
    {"data": {"name": "d"},
     "mark": {"type": "point", "shape": "M0,0L0,-1", "filled": false, "color": "#000", "strokeWidth": 0.9, "opacity": 1, "clip": true},
     "encoding": {
       "x": {"field": "t", "type": "temporal", "scale": {"domain": [{"year": 2021, "month": 6, "date": 30}, {"year": 2021, "month": 8, "date": 2}]}, "axis": null},
       "y": {"datum": 0, "type": "quantitative", "scale": {"domain": [-0.95, 1.05]}, "axis": {"title": ["Wind", "speed & direction"], "labels": false, "ticks": false, "titleFontSize": 9.5, "titleX": -24, "titleY": 35.5, "titleAngle": -90, "titleBaseline": "middle", "titleAlign": "center", "titleLineHeight": 11}},
       "size": {"field": "s", "type": "quantitative", "scale": {"type": "pow", "exponent": 2, "domain": [0, 5], "range": [0, 1600]}, "legend": null},
       "angle": {"field": "w", "type": "quantitative", "scale": {"domain": [0, 360], "range": [0, 360]}, "legend": null}
     }},
    {"data": {"values": [{"t": "2021-07-01T14:00", "y": 0.75, "k": "→ west wind 1m/s"}]},
     "mark": {"type": "text", "align": "left", "baseline": "middle", "fontSize": 9, "font": "DejaVu Sans", "color": "#000"},
     "encoding": {
       "x": {"field": "t", "type": "temporal", "axis": null},
       "y": {"field": "y", "type": "quantitative"},
       "text": {"field": "k"}
     }}
  ]
},
{
  "width": 472, "height": 72,
  "data": {"name": "d"},
  "layer": [
    {"mark": {"type": "line", "strokeWidth": 1, "clip": true},
     "encoding": {
       "x": {"field": "t", "type": "temporal", "scale": {"domain": [{"year": 2021, "month": 6, "date": 30}, {"year": 2021, "month": 8, "date": 2}]}, "axis": null},
       "y": {"field": "T", "type": "quantitative", "scale": {"domain": [20, 45.3]}, "axis": {"title": "Temp(°C)", "values": [24, 32, 40], "titleX": -30, "titleY": 36, "titleAngle": -90, "titleBaseline": "middle", "titleAlign": "center"}},
       "color": {"datum": "T", "scale": {"domain": ["T", "RH"], "range": ["#ff33ff", "#2e9a2e"]},
                 "legend": {"orient": "none", "legendX": 246, "legendY": 0, "direction": "horizontal", "title": null, "symbolType": "stroke", "symbolSize": 400, "symbolStrokeWidth": 1.5, "columnPadding": 14, "labelOffset": 3, "labelFontSize": 10}}
     }},
    {"mark": {"type": "line", "strokeWidth": 1, "clip": true},
     "encoding": {
       "x": {"field": "t", "type": "temporal", "axis": null},
       "y": {"field": "RH", "type": "quantitative", "scale": {"domain": [29.6, 95.6]}, "axis": {"orient": "right", "title": "RH（%）", "values": [40, 60, 80], "titleX": 28, "titleY": 36, "titleAngle": -90, "titleBaseline": "middle", "titleAlign": "center"}},
       "color": {"datum": "RH"}
     }}
  ],
  "resolve": {"scale": {"y": "independent"}}
},
{
  "width": 472, "height": 71,
  "data": {"name": "d"},
  "layer": [
    {"mark": {"type": "line", "strokeWidth": 1, "clip": true},
     "encoding": {
       "x": {"field": "t", "type": "temporal", "scale": {"domain": [{"year": 2021, "month": 6, "date": 30}, {"year": 2021, "month": 8, "date": 2}]}, "axis": null},
       "y": {"field": "O3", "type": "quantitative", "scale": {"domain": [0, 170]}, "axis": {"title": "O₃(ppbv)", "values": [0, 50, 100, 150], "titleX": -30, "titleY": 35.5, "titleAngle": -90, "titleBaseline": "middle", "titleAlign": "center"}},
       "color": {"datum": "O₃", "scale": {"domain": ["O₃", "NO", "NO₂"], "range": ["#111111", "#1f1fff", "#ff8c1a"]},
                 "legend": {"orient": "none", "legendX": 238, "legendY": 3, "direction": "horizontal", "title": null, "symbolType": "stroke", "symbolSize": 289, "symbolStrokeWidth": 1.5, "columnPadding": 4, "labelOffset": 2, "labelFontSize": 10}}
     }},
    {"mark": {"type": "line", "strokeWidth": 1, "clip": true},
     "encoding": {
       "x": {"field": "t", "type": "temporal", "axis": null},
       "y": {"field": "NO2", "type": "quantitative", "scale": {"domain": [0.9, 35]}, "axis": {"orient": "right", "title": "NOx(ppbv)", "values": [10, 20, 30], "titleX": 28, "titleY": 35.5, "titleAngle": -90, "titleBaseline": "middle", "titleAlign": "center"}},
       "color": {"datum": "NO₂"}
     }},
    {"mark": {"type": "line", "strokeWidth": 1, "clip": true},
     "encoding": {
       "x": {"field": "t", "type": "temporal", "axis": null},
       "y": {"field": "NO", "type": "quantitative", "scale": {"domain": [0.9, 35]}, "axis": null},
       "color": {"datum": "NO"}
     }},
    {"mark": {"type": "line", "strokeWidth": 1, "clip": true},
     "encoding": {
       "x": {"field": "t", "type": "temporal", "axis": null},
       "y": {"field": "O3", "type": "quantitative", "scale": {"domain": [0, 170]}, "axis": null},
       "color": {"datum": "O₃"}
     }}
  ],
  "resolve": {"scale": {"y": "independent"}}
},
{
  "width": 472, "height": 71,
  "data": {"name": "d"},
  "layer": [
    {"mark": {"type": "line", "strokeWidth": 1, "clip": true},
     "encoding": {
       "x": {"field": "t", "type": "temporal", "scale": {"domain": [{"year": 2021, "month": 6, "date": 30}, {"year": 2021, "month": 8, "date": 2}]}, "axis": null},
       "y": {"field": "SO2", "type": "quantitative", "scale": {"domain": [2.2, 36]}, "axis": {"title": "SO₂(ppbv)", "values": [10, 20, 30], "titleX": -30, "titleY": 35.5, "titleAngle": -90, "titleBaseline": "middle", "titleAlign": "center"}},
       "color": {"datum": "SO₂", "scale": {"domain": ["SO₂", "CO"], "range": ["#a040ff", "#ff1a1a"]},
                 "legend": {"orient": "none", "legendX": 248, "legendY": 1, "direction": "horizontal", "title": null, "symbolType": "stroke", "symbolSize": 289, "symbolStrokeWidth": 1.5, "columnPadding": 16, "labelOffset": 1, "labelFontSize": 10}}
     }},
    {"mark": {"type": "line", "strokeWidth": 1, "clip": true},
     "encoding": {
       "x": {"field": "t", "type": "temporal", "axis": null},
       "y": {"field": "CO", "type": "quantitative", "scale": {"domain": [0, 2.5]}, "axis": {"orient": "right", "title": "CO(ppmv)", "values": [1, 2], "titleX": 28, "titleY": 35.5, "titleAngle": -90, "titleBaseline": "middle", "titleAlign": "center"}},
       "color": {"datum": "CO"}
     }}
  ],
  "resolve": {"scale": {"y": "independent"}}
},
{
  "width": 472, "height": 71,
  "data": {"name": "d"},
  "transform": [{"fold": ["v1", "v2", "v3", "v4"], "as": ["k", "v"]}],
  "mark": {"type": "area", "strokeWidth": 0.5, "clip": true, "fillOpacity": 1},
  "encoding": {
    "x": {"field": "t", "type": "temporal", "scale": {"domain": [{"year": 2021, "month": 6, "date": 30}, {"year": 2021, "month": 8, "date": 2}]},
          "axis": {"title": null, "values": [{"year": 2021, "month": 6, "date": 30}, {"year": 2021, "month": 7, "date": 3}, {"year": 2021, "month": 7, "date": 6}, {"year": 2021, "month": 7, "date": 9}, {"year": 2021, "month": 7, "date": 12}, {"year": 2021, "month": 7, "date": 15}, {"year": 2021, "month": 7, "date": 18}, {"year": 2021, "month": 7, "date": 21}, {"year": 2021, "month": 7, "date": 24}, {"year": 2021, "month": 7, "date": 27}, {"year": 2021, "month": 7, "date": 30}, {"year": 2021, "month": 8, "date": 2}],
                   "format": "%-d %B", "labelFlush": false, "labelOverlap": false, "labelFontSize": 11, "tickSize": 5, "labelPadding": 3}},
    "y": {"field": "v", "type": "quantitative", "stack": "zero", "scale": {"domain": [0, 119]}, "axis": {"title": "VOCs(ppbv)", "values": [0, 30, 60, 90], "titleX": -30, "titleY": 35.5, "titleAngle": -90, "titleBaseline": "middle", "titleAlign": "center"}},
    "fill": {"field": "k", "type": "nominal", "scale": {"domain": ["v1", "v2", "v3", "v4"], "range": ["#f9bf8a", "#3cb96a", "#c4b0e4", "#fafa96"]},
             "legend": {"orient": "none", "legendX": 181, "legendY": 4, "direction": "horizontal", "title": null, "symbolType": "M-1,-0.55H1V0.55H-1Z", "symbolSize": 225, "symbolStrokeWidth": 1, "columnPadding": 6, "labelOffset": 4, "labelFontSize": 10,
                        "labelExpr": "datum.label == 'v1' ? 'Alkanes' : datum.label == 'v2' ? 'Alkenes' : datum.label == 'v3' ? 'Alkyne' : 'Aromatics'"}},
    "stroke": {"field": "k", "type": "nominal", "scale": {"domain": ["v1", "v2", "v3", "v4"], "range": ["#8c8c8c", "#e8604c", "#4a7fe8", "#34b04e"]},
             "legend": {"orient": "none", "legendX": 181, "legendY": 4, "direction": "horizontal", "title": null, "symbolType": "M-1,-0.55H1V0.55H-1Z", "symbolSize": 225, "symbolStrokeWidth": 1, "columnPadding": 6, "labelOffset": 4, "labelFontSize": 10,
                        "labelExpr": "datum.label == 'v1' ? 'Alkanes' : datum.label == 'v2' ? 'Alkenes' : datum.label == 'v3' ? 'Alkyne' : 'Aromatics'"}}
  }
}
]
}
